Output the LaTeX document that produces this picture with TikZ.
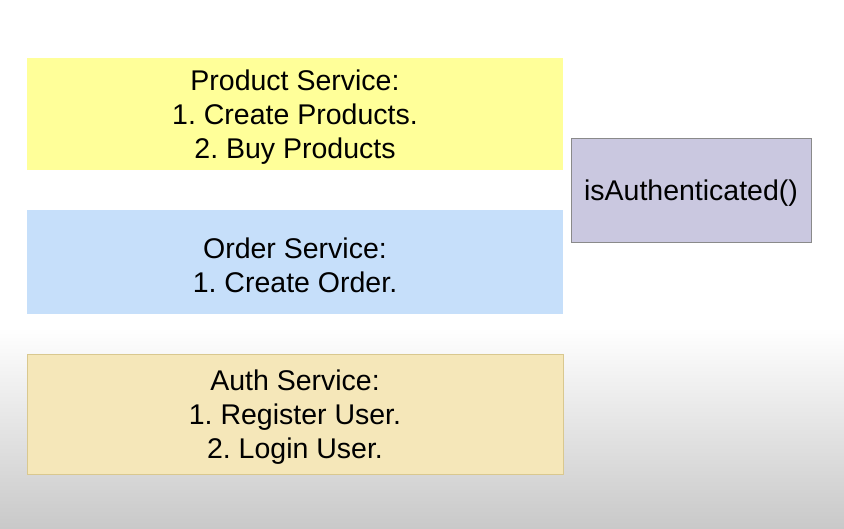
\documentclass[tikz,border=0pt]{standalone}
\usepackage{fontspec}
\setmainfont{Liberation Sans}
\usepackage{tikz}
\usetikzlibrary{positioning}

\definecolor{productfill}{HTML}{FFFF99}
\definecolor{orderfill}{HTML}{C6DFFA}
\definecolor{authfill}{HTML}{F5E7B9}
\definecolor{authline}{HTML}{D9C88F}
\definecolor{checkfill}{HTML}{CAC8E0}
\definecolor{checkline}{HTML}{8A8A8A}
\definecolor{floorgray}{HTML}{C9C9C9}

\begin{document}
\begin{tikzpicture}[
        x=1pt, y=1pt,
        font=\fontsize{28.5}{34}\selectfont\frenchspacing,
        every node/.style={align=center, inner sep=0pt},
        every label/.style={yshift=-3pt},
        service/.style={minimum width=536pt},
    ]
    % background
    \fill[white] (0,0) rectangle (844,528);
    \shade[top color=white, bottom color=floorgray] (0,0) rectangle (844,200);
    \useasboundingbox (0,0) rectangle (844,528);
    % services
    \node[service, fill=productfill, minimum height=112pt,
        label=center:{Product Service:\\1. Create Products.\\2. Buy Products}] (product) at (295,414) {};
    \node[service, fill=orderfill, minimum height=104pt,
        label=center:{Order Service:\\1. Create Order.}] (order) at (295,266) {};
    \node[service, fill=authfill, draw=authline, minimum height=120pt,
        label=center:{Auth Service:\\1. Register User.\\2. Login User.}] (auth) at (295,114) {};
    % shared check
    \node[fill=checkfill, draw=checkline, minimum width=240pt, minimum height=104pt,
        label=center:{isAuthenticated()}] (check) at (691,338) {};
\end{tikzpicture}
\end{document}
